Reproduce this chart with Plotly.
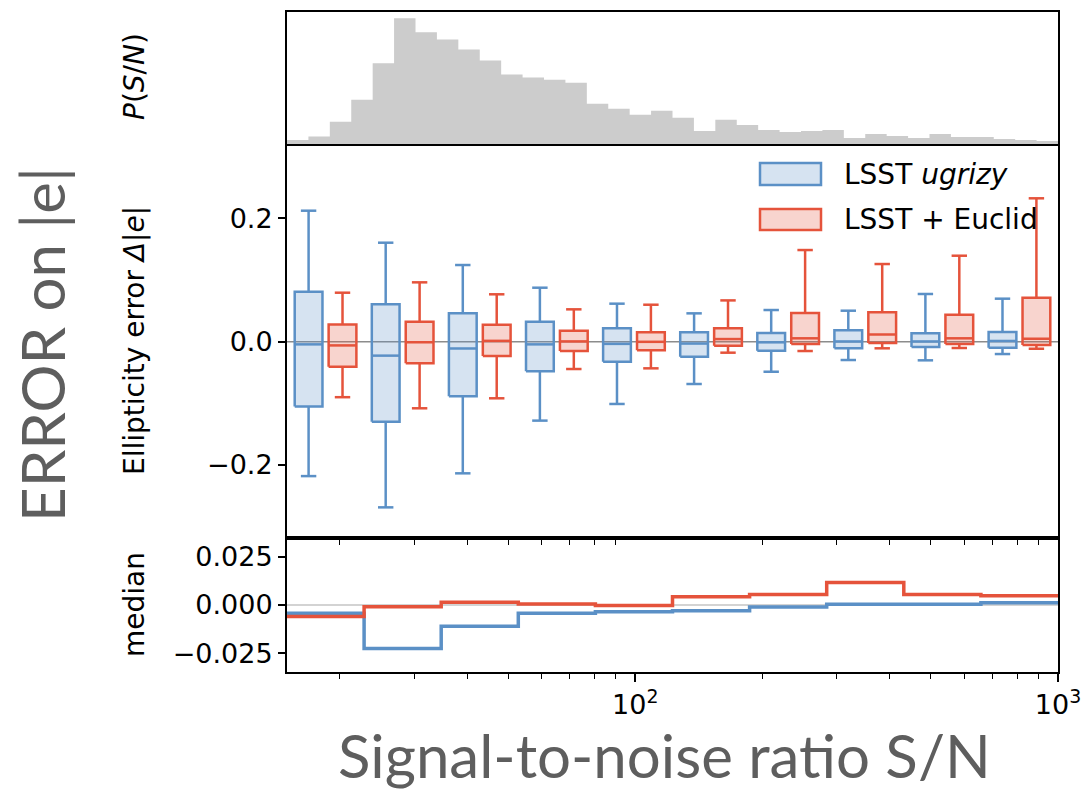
import numpy as np
import plotly.graph_objects as go

# ---------------- data ----------------
SN_MIN, SN_MAX = 15, 1000

# P(S/N): relative counts in 36 log-spaced bins
sn_hist = [12, 22, 66, 132, 241, 375, 333, 312, 282, 249, 207, 198, 192, 183,
           120, 105, 87, 99, 78, 39, 72, 57, 42, 36, 39, 42, 18, 30, 24, 18,
           30, 21, 21, 15, 12, 9]

# Ellipticity error box statistics in 10 log-spaced S/N bins
blue_upper = [0.2125, 0.1606, 0.1244, 0.0876, 0.0617, 0.0460, 0.0514, 0.0503, 0.0774, 0.0698]
blue_q3 = [0.0810, 0.0606, 0.0460, 0.0325, 0.0217, 0.0152, 0.0141, 0.0185, 0.0136, 0.0157]
blue_med = [-0.0043, -0.0226, -0.0110, -0.0043, -0.0035, -0.0030, -0.0010, 0.0004, 0.0004, 0.0012]
blue_q1 = [-0.1050, -0.1298, -0.0886, -0.0480, -0.0324, -0.0243, -0.0146, -0.0107, -0.0086, -0.0097]
blue_lower = [-0.2180, -0.2687, -0.2135, -0.1280, -0.1010, -0.0686, -0.0487, -0.0297, -0.0302, -0.0200]

red_upper = [0.0795, 0.0963, 0.0769, 0.0525, 0.0600, 0.0670, 0.1487, 0.1260, 0.1395, 0.2326]
red_q3 = [0.0280, 0.0325, 0.0276, 0.0178, 0.0152, 0.0217, 0.0465, 0.0477, 0.0438, 0.0714]
red_med = [-0.0060, -0.0009, 0.0014, 0.0005, -0.0002, 0.0043, 0.0055, 0.0117, 0.0055, 0.0048]
red_q1 = [-0.0405, -0.0350, -0.0232, -0.0150, -0.0140, -0.0065, -0.0037, -0.0020, -0.0037, -0.0054]
red_lower = [-0.0900, -0.1080, -0.0918, -0.0443, -0.0432, -0.0178, -0.0151, -0.0107, -0.0102, -0.0114]

series_names = ["LSST <i>ugrizy</i>", "LSST + Euclid"]
major_ticks = [100, 1000]
major_text = ["10<sup>2</sup>", "10<sup>3</sup>"]
minor_ticks = [20, 30, 40, 50, 60, 70, 80, 90, 200, 300, 400, 500, 600, 700, 800, 900]

# ---------------- style ----------------
BLUE = "#5b90c6"
RED = "#e5533b"
BLUE_FILL = "rgba(91,144,198,0.25)"
RED_FILL = "rgba(229,83,59,0.25)"
FONT = "DejaVu Sans"
FS = 27
LABEL_FS = 28
BIG_FONT = "Lato"
BIG_COLOR = "#5e5e5e"

hist_edges = np.logspace(np.log10(SN_MIN), np.log10(SN_MAX), len(sn_hist) + 1)
box_edges_log = np.linspace(np.log10(SN_MIN), np.log10(SN_MAX), len(blue_med) + 1)
box_edges = 10 ** box_edges_log

fig = go.Figure()

# --- top panel: S/N distribution ---
fig.add_trace(go.Scatter(
    x=hist_edges, y=list(sn_hist) + [sn_hist[-1]], mode="lines", line_shape="hv",
    line=dict(width=0, color="#cccccc"), fill="tozeroy", fillcolor="#cccccc",
    xaxis="x3", yaxis="y3", showlegend=False, hoverinfo="skip"))

# --- middle panel: zero reference ---
fig.add_trace(go.Scatter(
    x=[SN_MIN, SN_MAX], y=[0, 0], mode="lines", line=dict(color="#8c8c8c", width=1.5),
    xaxis="x2", yaxis="y2", showlegend=False, hoverinfo="skip"))


def add_boxes(lower, q1, med, q3, upper, frac, color, fill):
    wx, wy = [], []
    for i in range(len(med)):
        lo, hi = box_edges_log[i], box_edges_log[i + 1]
        w = hi - lo
        c = lo + frac * w
        xl, xr = 10 ** (c - 0.18 * w), 10 ** (c + 0.18 * w)
        cl, cr = 10 ** (c - 0.10 * w), 10 ** (c + 0.10 * w)
        xc = 10 ** c
        fig.add_trace(go.Scatter(
            x=[xl, xr, xr, xl, xl], y=[q1[i], q1[i], q3[i], q3[i], q1[i]],
            mode="lines", fill="toself", fillcolor=fill,
            line=dict(color=color, width=2.5), xaxis="x2", yaxis="y2",
            showlegend=False, hoverinfo="skip"))
        fig.add_trace(go.Scatter(
            x=[xl, xr], y=[med[i], med[i]], mode="lines",
            line=dict(color=color, width=2.5), xaxis="x2", yaxis="y2",
            showlegend=False, hoverinfo="skip"))
        wx += [xc, xc, None, xc, xc, None, cl, cr, None, cl, cr, None]
        wy += [q3[i], upper[i], None, q1[i], lower[i], None,
               upper[i], upper[i], None, lower[i], lower[i], None]
    fig.add_trace(go.Scatter(
        x=wx, y=wy, mode="lines", line=dict(color=color, width=2.5),
        xaxis="x2", yaxis="y2", showlegend=False, hoverinfo="skip", connectgaps=False))


add_boxes(blue_lower, blue_q1, blue_med, blue_q3, blue_upper, 0.28, BLUE, BLUE_FILL)
add_boxes(red_lower, red_q1, red_med, red_q3, red_upper, 0.72, RED, RED_FILL)

# --- bottom panel: medians per bin ---
fig.add_trace(go.Scatter(
    x=[SN_MIN, SN_MAX], y=[0, 0], mode="lines", line=dict(color="#a8a8a8", width=1.2),
    xaxis="x", yaxis="y", showlegend=False, hoverinfo="skip"))
for med, color in [(blue_med, BLUE), (red_med, RED)]:
    fig.add_trace(go.Scatter(
        x=box_edges, y=list(med) + [med[-1]], mode="lines", line_shape="hv",
        line=dict(color=color, width=3.5), xaxis="x", yaxis="y",
        showlegend=False, hoverinfo="skip"))

# ---------------- layout ----------------
L, R, T, B = 287, 25, 12, 119
W, H = 1083, 791
PW, PH = W - L - R, H - T - B


def px(xp):
    return (xp - L) / PW


def py(yp):
    return (H - B - yp) / PH


axis_common = dict(showline=True, linecolor="black", linewidth=2, mirror=True,
                   showgrid=False, zeroline=False, automargin=False,
                   tickfont=dict(family=FONT, size=FS, color="black"),
                   tickcolor="black")
xr = [np.log10(SN_MIN), np.log10(SN_MAX)]

fig.update_layout(
    width=W, height=H, margin=dict(l=L, r=R, t=T, b=B, autoexpand=False),
    paper_bgcolor="white", plot_bgcolor="white", showlegend=False,
    xaxis=dict(type="log", range=xr, domain=[0, 1], anchor="y",
               tickmode="array", tickvals=major_ticks, ticktext=major_text,
               ticks="outside", ticklen=8, tickwidth=1.5,
               minor=dict(tickmode="array", tickvals=minor_ticks, ticks="outside",
                          ticklen=5, tickwidth=1.2, tickcolor="black"),
               **axis_common),
    yaxis=dict(range=[-0.0348, 0.0348], domain=[0, py(538)], anchor="x",
               tickmode="array", tickvals=[-0.025, 0, 0.025],
               ticktext=["\u22120.025", "0.000", "0.025"],
               ticks="outside", ticklen=7, tickwidth=1.5, **axis_common),
    xaxis2=dict(type="log", range=xr, domain=[0, 1], anchor="y2", matches="x",
                tickmode="array", tickvals=minor_ticks, ticks="outside",
                ticklen=5, tickwidth=1.2, showticklabels=False, **axis_common),
    yaxis2=dict(range=[-0.3184, 0.3207], domain=[py(538), py(144)], anchor="x2",
                tickmode="array", tickvals=[-0.2, 0, 0.2],
                ticktext=["\u22120.2", "0.0", "0.2"],
                ticks="outside", ticklen=7, tickwidth=1.5, **axis_common),
    xaxis3=dict(type="log", range=xr, domain=[0, 1], anchor="y3", matches="x",
                ticks="", showticklabels=False, **axis_common),
    yaxis3=dict(range=[0, max(sn_hist) * 1.05], domain=[py(144), 1], anchor="x3",
                ticks="", showticklabels=False, **axis_common),
)

# legend patches and labels
shapes = []
annotations = []
for (y0, y1), color, fill, name in [((163, 185), BLUE, BLUE_FILL, series_names[0]),
                                    ((209, 230), RED, RED_FILL, series_names[1])]:
    shapes.append(dict(type="rect", xref="paper", yref="paper",
                       x0=px(760), x1=px(821), y0=py(y1), y1=py(y0),
                       line=dict(color=color, width=2.5), fillcolor=fill))
    annotations.append(dict(text=name, xref="paper", yref="paper",
                            x=px(842), y=py((y0 + y1) / 2), xanchor="left",
                            yanchor="middle", showarrow=False,
                            font=dict(family=FONT, size=LABEL_FS, color="black")))

# panel labels
for text, yc in [("<i>P</i>(<i>S</i>/<i>N</i>)", 77),
                 ("Ellipticity error <i>\u0394</i>|<i>e</i>|", 341),
                 ("median", 605)]:
    annotations.append(dict(text=text, xref="paper", yref="paper", x=px(134),
                            y=py(yc), xanchor="center", yanchor="middle",
                            textangle=-90, showarrow=False,
                            font=dict(family=FONT, size=LABEL_FS, color="black")))

# large headline labels
annotations.append(dict(text="ERROR on |e|", xref="paper", yref="paper",
                        x=px(42), y=py(345), xanchor="center", yanchor="middle",
                        textangle=-90, showarrow=False,
                        font=dict(family=BIG_FONT, size=60, color=BIG_COLOR)))
annotations.append(dict(text="Signal-to-noise ratio S/N", xref="paper", yref="paper",
                        x=px(664), y=py(755), xanchor="center", yanchor="middle",
                        showarrow=False,
                        font=dict(family=BIG_FONT, size=60, color=BIG_COLOR)))

fig.update_layout(shapes=shapes, annotations=annotations)

fig.write_html("out.html")
